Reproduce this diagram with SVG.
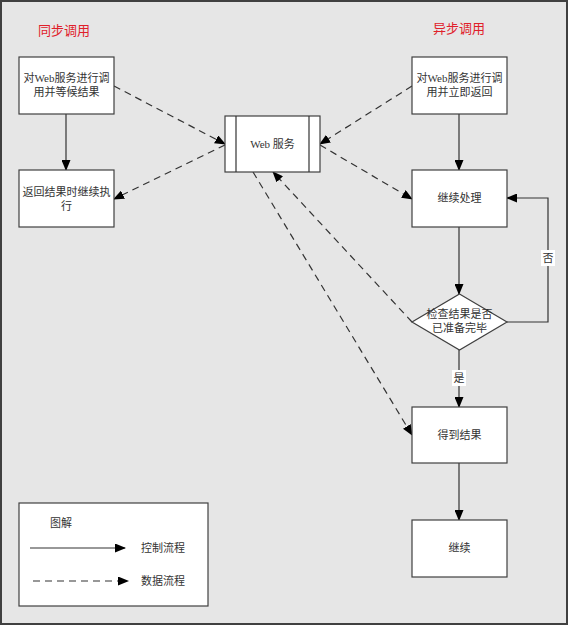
<svg xmlns="http://www.w3.org/2000/svg" width="568" height="625" viewBox="0 0 568 625">
<defs>
<marker id="ah" markerWidth="11" markerHeight="9" refX="10" refY="4.5" orient="auto" markerUnits="userSpaceOnUse">
<path d="M0,0 L11,4.5 L0,9 Z" fill="#000"/>
</marker>
<style>
.box{fill:#fff;stroke:#404040;stroke-width:1.2}
.t{font-family:"Liberation Serif","Noto Sans CJK SC",serif;font-size:11px;fill:#333;text-anchor:middle}
.ttl{font-family:"Noto Sans CJK SC",sans-serif;font-size:13px;fill:#e0202a;text-anchor:middle}
.solid{stroke:#333;stroke-width:1.2;fill:none}
.dash{stroke:#333;stroke-width:1.2;fill:none;stroke-dasharray:7,5}
.lbl{fill:#fff}
</style>
</defs>
<rect x="1" y="1" width="566" height="623" fill="#e6e6e6" stroke="#404040" stroke-width="2"/>
<text class="ttl" x="64" y="35">同步调用</text>
<text class="ttl" x="459" y="33">异步调用</text>

<g id="connectors">
<line class="solid" x1="66" y1="114" x2="66" y2="170" marker-end="url(#ah)"/>
<line class="dash" x1="114" y1="86" x2="225" y2="144" marker-end="url(#ah)"/>
<line class="dash" x1="225" y1="145" x2="114" y2="199" marker-end="url(#ah)"/>
<line class="dash" x1="412" y1="86" x2="320" y2="144" marker-end="url(#ah)"/>
<line class="dash" x1="320" y1="145" x2="412" y2="199" marker-end="url(#ah)"/>
<line class="dash" x1="412" y1="322" x2="273" y2="172" marker-end="url(#ah)"/>
<line class="dash" x1="253" y1="172" x2="412" y2="435" marker-end="url(#ah)"/>
<line class="solid" x1="459" y1="114" x2="459" y2="170" marker-end="url(#ah)"/>
<line class="solid" x1="459" y1="227" x2="459" y2="294" marker-end="url(#ah)"/>
<polyline class="solid" points="507,322 548,322 548,198 507,198" marker-end="url(#ah)"/>
<rect class="lbl" x="541" y="250" width="14" height="16"/>
<text class="t" x="548" y="262">否</text>
<line class="solid" x1="459" y1="350" x2="459" y2="407" marker-end="url(#ah)"/>
<rect class="lbl" x="452" y="370" width="14" height="16"/>
<text class="t" x="459" y="382">是</text>
<line class="solid" x1="459" y1="463" x2="459" y2="520" marker-end="url(#ah)"/>
</g>

<g id="sync-call">
<rect class="box" x="19" y="57" width="95" height="57"/>
<text class="t" x="66.5" y="82">对Web服务进行调</text>
<text class="t" x="66.5" y="96">用并等候结果</text>
</g>
<g id="sync-continue">
<rect class="box" x="19" y="170" width="95" height="57"/>
<text class="t" x="66.5" y="196">返回结果时继续执</text>
<text class="t" x="66.5" y="210">行</text>
</g>
<g id="web-service">
<rect class="box" x="225" y="116" width="95" height="56"/>
<line class="solid" x1="236" y1="116" x2="236" y2="172"/>
<line class="solid" x1="309" y1="116" x2="309" y2="172"/>
<text class="t" x="272.5" y="148">Web 服务</text>
</g>
<g id="async-call">
<rect class="box" x="412" y="57" width="95" height="57"/>
<text class="t" x="459.5" y="82">对Web服务进行调</text>
<text class="t" x="459.5" y="96">用并立即返回</text>
</g>
<g id="continue-processing">
<rect class="box" x="412" y="170" width="95" height="57"/>
<text class="t" x="459.5" y="202">继续处理</text>
</g>
<g id="check">
<polygon class="box" points="459.5,294 507,322 459.5,350 412,322"/>
<text class="t" x="459.5" y="318">检查结果是否</text>
<text class="t" x="459.5" y="332">已准备完毕</text>
</g>
<g id="get-result">
<rect class="box" x="412" y="407" width="95" height="56"/>
<text class="t" x="459.5" y="439">得到结果</text>
</g>
<g id="continue">
<rect class="box" x="412" y="520" width="95" height="57"/>
<text class="t" x="459.5" y="552">继续</text>
</g>
<g id="legend">
<rect class="box" x="19" y="503" width="189" height="103"/>
<text class="t" x="61" y="527">图解</text>
<line class="solid" x1="30" y1="548" x2="125" y2="548" marker-end="url(#ah)"/>
<text class="t" x="163" y="552">控制流程</text>
<line class="dash" x1="33" y1="581" x2="128" y2="581" stroke-dasharray="9,5" marker-end="url(#ah)"/>
<text class="t" x="163" y="585">数据流程</text>
</g>
</svg>
